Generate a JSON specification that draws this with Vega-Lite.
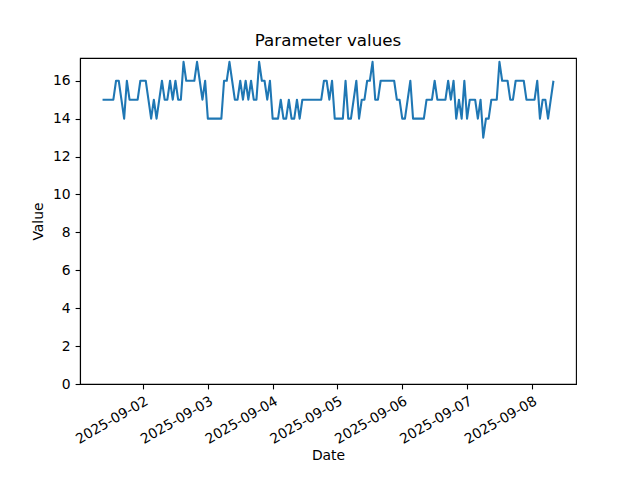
{
  "$schema": "https://vega.github.io/schema/vega-lite/v6.json",
  "width": 496,
  "height": 326,
  "autosize": {"type": "none"},
  "padding": {"left": 80, "top": 58, "right": 64, "bottom": 96},
  "background": "white",
  "title": {"text": "Parameter values", "fontSize": 16.7, "fontWeight": "normal", "font": "DejaVu Sans", "color": "black", "offset": 8},
  "data": {"values": [
    {"t":"2025-09-01T09:00","v":15},{"t":"2025-09-01T10:00","v":15},{"t":"2025-09-01T11:00","v":15},{"t":"2025-09-01T12:00","v":15},{"t":"2025-09-01T13:00","v":15},{"t":"2025-09-01T14:00","v":16},{"t":"2025-09-01T15:00","v":16},{"t":"2025-09-01T16:00","v":15},{"t":"2025-09-01T17:00","v":14},{"t":"2025-09-01T18:00","v":16},{"t":"2025-09-01T19:00","v":15},{"t":"2025-09-01T20:00","v":15},{"t":"2025-09-01T21:00","v":15},{"t":"2025-09-01T22:00","v":15},{"t":"2025-09-01T23:00","v":16},
    {"t":"2025-09-02T00:00","v":16},{"t":"2025-09-02T01:00","v":16},{"t":"2025-09-02T02:00","v":15},{"t":"2025-09-02T03:00","v":14},{"t":"2025-09-02T04:00","v":15},{"t":"2025-09-02T05:00","v":14},{"t":"2025-09-02T06:00","v":15},{"t":"2025-09-02T07:00","v":16},{"t":"2025-09-02T08:00","v":15},{"t":"2025-09-02T09:00","v":15},{"t":"2025-09-02T10:00","v":16},{"t":"2025-09-02T11:00","v":15},{"t":"2025-09-02T12:00","v":16},{"t":"2025-09-02T13:00","v":15},{"t":"2025-09-02T14:00","v":15},{"t":"2025-09-02T15:00","v":17},{"t":"2025-09-02T16:00","v":16},{"t":"2025-09-02T17:00","v":16},{"t":"2025-09-02T18:00","v":16},{"t":"2025-09-02T19:00","v":16},{"t":"2025-09-02T20:00","v":17},{"t":"2025-09-02T21:00","v":16},{"t":"2025-09-02T22:00","v":15},{"t":"2025-09-02T23:00","v":16},
    {"t":"2025-09-03T00:00","v":14},{"t":"2025-09-03T01:00","v":14},{"t":"2025-09-03T02:00","v":14},{"t":"2025-09-03T03:00","v":14},{"t":"2025-09-03T04:00","v":14},{"t":"2025-09-03T05:00","v":14},{"t":"2025-09-03T06:00","v":16},{"t":"2025-09-03T07:00","v":16},{"t":"2025-09-03T08:00","v":17},{"t":"2025-09-03T09:00","v":16},{"t":"2025-09-03T10:00","v":15},{"t":"2025-09-03T11:00","v":15},{"t":"2025-09-03T12:00","v":16},{"t":"2025-09-03T13:00","v":15},{"t":"2025-09-03T14:00","v":16},{"t":"2025-09-03T15:00","v":15},{"t":"2025-09-03T16:00","v":16},{"t":"2025-09-03T17:00","v":15},{"t":"2025-09-03T18:00","v":15},{"t":"2025-09-03T19:00","v":17},{"t":"2025-09-03T20:00","v":16},{"t":"2025-09-03T21:00","v":16},{"t":"2025-09-03T22:00","v":15},{"t":"2025-09-03T23:00","v":16},
    {"t":"2025-09-04T00:00","v":14},{"t":"2025-09-04T01:00","v":14},{"t":"2025-09-04T02:00","v":14},{"t":"2025-09-04T03:00","v":15},{"t":"2025-09-04T04:00","v":14},{"t":"2025-09-04T05:00","v":14},{"t":"2025-09-04T06:00","v":15},{"t":"2025-09-04T07:00","v":14},{"t":"2025-09-04T08:00","v":14},{"t":"2025-09-04T09:00","v":15},{"t":"2025-09-04T10:00","v":14},{"t":"2025-09-04T11:00","v":15},{"t":"2025-09-04T12:00","v":15},{"t":"2025-09-04T13:00","v":15},{"t":"2025-09-04T14:00","v":15},{"t":"2025-09-04T15:00","v":15},{"t":"2025-09-04T16:00","v":15},{"t":"2025-09-04T17:00","v":15},{"t":"2025-09-04T18:00","v":15},{"t":"2025-09-04T19:00","v":16},{"t":"2025-09-04T20:00","v":16},{"t":"2025-09-04T21:00","v":15},{"t":"2025-09-04T22:00","v":16},{"t":"2025-09-04T23:00","v":14},
    {"t":"2025-09-05T00:00","v":14},{"t":"2025-09-05T01:00","v":14},{"t":"2025-09-05T02:00","v":14},{"t":"2025-09-05T03:00","v":16},{"t":"2025-09-05T04:00","v":14},{"t":"2025-09-05T05:00","v":14},{"t":"2025-09-05T06:00","v":15},{"t":"2025-09-05T07:00","v":16},{"t":"2025-09-05T08:00","v":14},{"t":"2025-09-05T09:00","v":15},{"t":"2025-09-05T10:00","v":15},{"t":"2025-09-05T11:00","v":16},{"t":"2025-09-05T12:00","v":16},{"t":"2025-09-05T13:00","v":17},{"t":"2025-09-05T14:00","v":15},{"t":"2025-09-05T15:00","v":15},{"t":"2025-09-05T16:00","v":16},{"t":"2025-09-05T17:00","v":16},{"t":"2025-09-05T18:00","v":16},{"t":"2025-09-05T19:00","v":16},{"t":"2025-09-05T20:00","v":16},{"t":"2025-09-05T21:00","v":16},{"t":"2025-09-05T22:00","v":15},{"t":"2025-09-05T23:00","v":15},
    {"t":"2025-09-06T00:00","v":14},{"t":"2025-09-06T01:00","v":14},{"t":"2025-09-06T02:00","v":15},{"t":"2025-09-06T03:00","v":16},{"t":"2025-09-06T04:00","v":14},{"t":"2025-09-06T05:00","v":14},{"t":"2025-09-06T06:00","v":14},{"t":"2025-09-06T07:00","v":14},{"t":"2025-09-06T08:00","v":14},{"t":"2025-09-06T09:00","v":15},{"t":"2025-09-06T10:00","v":15},{"t":"2025-09-06T11:00","v":15},{"t":"2025-09-06T12:00","v":16},{"t":"2025-09-06T13:00","v":15},{"t":"2025-09-06T14:00","v":15},{"t":"2025-09-06T15:00","v":15},{"t":"2025-09-06T16:00","v":15},{"t":"2025-09-06T17:00","v":16},{"t":"2025-09-06T18:00","v":15},{"t":"2025-09-06T19:00","v":16},{"t":"2025-09-06T20:00","v":14},{"t":"2025-09-06T21:00","v":15},{"t":"2025-09-06T22:00","v":14},{"t":"2025-09-06T23:00","v":16},
    {"t":"2025-09-07T00:00","v":14},{"t":"2025-09-07T01:00","v":15},{"t":"2025-09-07T02:00","v":15},{"t":"2025-09-07T03:00","v":15},{"t":"2025-09-07T04:00","v":14},{"t":"2025-09-07T05:00","v":15},{"t":"2025-09-07T06:00","v":13},{"t":"2025-09-07T07:00","v":14},{"t":"2025-09-07T08:00","v":14},{"t":"2025-09-07T09:00","v":15},{"t":"2025-09-07T10:00","v":15},{"t":"2025-09-07T11:00","v":15},{"t":"2025-09-07T12:00","v":17},{"t":"2025-09-07T13:00","v":16},{"t":"2025-09-07T14:00","v":16},{"t":"2025-09-07T15:00","v":16},{"t":"2025-09-07T16:00","v":15},{"t":"2025-09-07T17:00","v":15},{"t":"2025-09-07T18:00","v":16},{"t":"2025-09-07T19:00","v":16},{"t":"2025-09-07T20:00","v":16},{"t":"2025-09-07T21:00","v":16},{"t":"2025-09-07T22:00","v":15},{"t":"2025-09-07T23:00","v":15},
    {"t":"2025-09-08T00:00","v":15},{"t":"2025-09-08T01:00","v":15},{"t":"2025-09-08T02:00","v":16},{"t":"2025-09-08T03:00","v":14},{"t":"2025-09-08T04:00","v":15},{"t":"2025-09-08T05:00","v":15},{"t":"2025-09-08T06:00","v":14},{"t":"2025-09-08T07:00","v":15},{"t":"2025-09-08T08:00","v":16}
  ]},
  "mark": {"type": "line", "color": "#1f77b4", "strokeWidth": 2.08, "strokeJoin": "round"},
  "encoding": {
    "x": {
      "field": "t", "type": "temporal", "title": "Date",
      "scale": {"domain": [{"year": 2025, "month": 9, "date": 1, "hours": 0, "minutes": 39}, {"year": 2025, "month": 9, "date": 8, "hours": 16, "minutes": 21}], "nice": false},
      "axis": {
        "values": [{"year": 2025, "month": 9, "date": 2}, {"year": 2025, "month": 9, "date": 3}, {"year": 2025, "month": 9, "date": 4}, {"year": 2025, "month": 9, "date": 5}, {"year": 2025, "month": 9, "date": 6}, {"year": 2025, "month": 9, "date": 7}, {"year": 2025, "month": 9, "date": 8}],
        "format": "%Y-%m-%d", "labelAngle": -30, "labelAlign": "right", "labelBaseline": "top", "labelOverlap": false,
        "labelFontSize": 13.9, "labelFont": "DejaVu Sans", "labelLimit": 300,
        "labelDx": -2, "labelDy": 3, "titlePadding": 2
      }
    },
    "y": {
      "field": "v", "type": "quantitative", "title": "Value",
      "scale": {"domain": [0, 17.2], "nice": false, "zero": false},
      "axis": {"values": [0, 2, 4, 6, 8, 10, 12, 14, 16], "titlePadding": 7}
    }
  },
  "config": {
    "font": "DejaVu Sans",
    "view": {"stroke": "black", "strokeWidth": 1.1},
    "axis": {
      "grid": false, "domainColor": "black", "domainWidth": 1.1, "tickColor": "black", "tickWidth": 1.1, "tickSize": 4.9,
      "labelColor": "black", "titleColor": "black", "labelFontSize": 13.9, "titleFontSize": 13.9, "titleFontWeight": "normal",
      "labelPadding": 4.9, "labelFont": "DejaVu Sans", "titleFont": "DejaVu Sans"
    }
  }
}
